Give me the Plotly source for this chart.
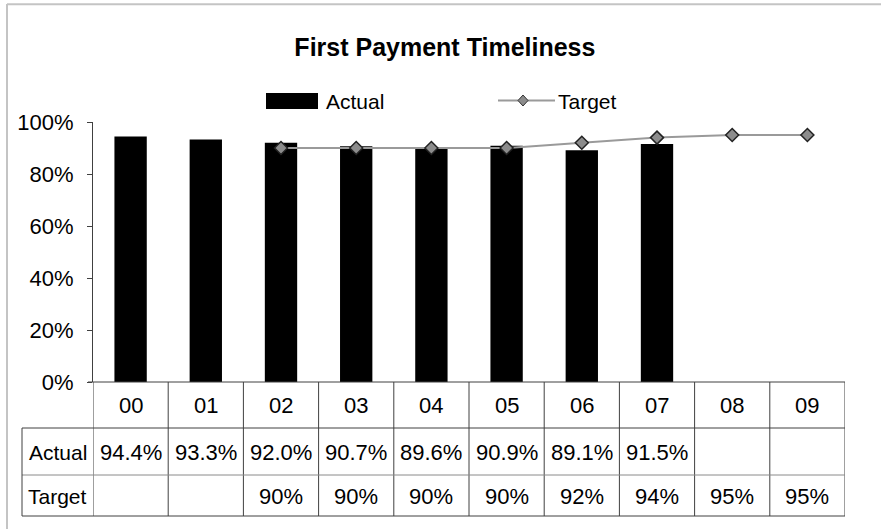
import plotly.graph_objects as go

# ---- data ----
categories = ["00", "01", "02", "03", "04", "05", "06", "07", "08", "09"]
actual = [94.4, 93.3, 92.0, 90.7, 89.6, 90.9, 89.1, 91.5, None, None]
target = [None, None, 90, 90, 90, 90, 92, 94, 95, 95]
series_names = ["Actual", "Target"]
title_text = "First Payment Timeliness"
y_ticks = [0, 20, 40, 60, 80, 100]

FONT = "Liberation Sans, Arial, sans-serif"
W_PX, H_PX = 881, 529
L, R, T, B = 93, 845, 122, 382
PW, PH = R - L, B - T


def px(x):
    return (x - L) / PW


def py(y):
    return (B - y) / PH


fig = go.Figure()
fig.add_trace(go.Bar(x=categories, y=actual, name=series_names[0],
                     marker=dict(color="black", line=dict(width=0)),
                     showlegend=False))
fig.add_trace(go.Scatter(x=categories, y=target, name=series_names[1],
                         mode="lines+markers",
                         line=dict(color="#9a9a9a", width=2),
                         marker=dict(symbol="diamond", size=10, color="#8c8c8c",
                                     line=dict(color="#222222", width=1.5)),
                         connectgaps=False, showlegend=False))

shapes = []
dark = "#404040"
light = "#8a8a8a"
# outer chart border (top and left)
shapes.append(dict(type="line", xref="paper", yref="paper", x0=px(7), x1=px(881), y0=py(4.3), y1=py(4.3),
                   line=dict(color="#c4c4c4", width=2)))
shapes.append(dict(type="line", xref="paper", yref="paper", x0=px(7), x1=px(7), y0=py(4), y1=py(529),
                   line=dict(color="#c4c4c4", width=2)))
# table lines
n = len(categories)
for i in range(n + 1):
    xb = i - 0.5
    shapes.append(dict(type="line", xref="x", yref="paper", x0=xb, x1=xb, y0=py(382), y1=py(516),
                       line=dict(color=dark, width=1)))
shapes.append(dict(type="line", xref="paper", yref="paper", x0=px(88), x1=px(845), y0=0, y1=0,
                   line=dict(color=dark, width=1)))
shapes.append(dict(type="line", xref="paper", yref="paper", x0=px(22), x1=px(845), y0=py(428), y1=py(428),
                   line=dict(color=dark, width=1)))
shapes.append(dict(type="line", xref="paper", yref="paper", x0=px(22), x1=px(845), y0=py(475), y1=py(475),
                   line=dict(color=light, width=1)))
shapes.append(dict(type="line", xref="paper", yref="paper", x0=px(22), x1=px(845), y0=py(516), y1=py(516),
                   line=dict(color=dark, width=1)))
shapes.append(dict(type="line", xref="paper", yref="paper", x0=px(22), x1=px(22), y0=py(428), y1=py(516),
                   line=dict(color=dark, width=1)))
# custom legend
shapes.append(dict(type="rect", xref="paper", yref="paper", x0=px(266), x1=px(318), y0=py(93), y1=py(109),
                   fillcolor="black", line=dict(width=0)))
shapes.append(dict(type="line", xref="paper", yref="paper", x0=px(498), x1=px(555), y0=py(100.5), y1=py(100.5),
                   line=dict(color="#9a9a9a", width=2)))
cx, cy = 523, 100.5
diamond = "M {} {} L {} {} L {} {} L {} {} Z".format(
    px(cx - 5), py(cy), px(cx), py(cy - 5.5), px(cx + 5), py(cy), px(cx), py(cy + 5.5))
shapes.append(dict(type="path", xref="paper", yref="paper", path=diamond,
                   fillcolor="#8c8c8c", line=dict(color="#333333", width=1)))

annotations = []
tf = dict(family=FONT, size=21, color="black")
nf = dict(family=FONT, size=22, color="black")
annotations.append(dict(text=series_names[0], xref="paper", yref="paper", x=px(324), y=py(101),
                        xanchor="left", yanchor="middle", showarrow=False, font=tf))
annotations.append(dict(text=series_names[1], xref="paper", yref="paper", x=px(556), y=py(101),
                        xanchor="left", yanchor="middle", showarrow=False, font=tf))
# table row headers
annotations.append(dict(text=series_names[0], xref="paper", yref="paper", x=px(57.5), y=py(452),
                        xanchor="center", yanchor="middle", showarrow=False, font=tf))
annotations.append(dict(text=series_names[1], xref="paper", yref="paper", x=px(57.5), y=py(496),
                        xanchor="center", yanchor="middle", showarrow=False, font=tf))
for c, a, t in zip(categories, actual, target):
    annotations.append(dict(text=c, xref="x", yref="paper", x=c, y=py(405),
                            xanchor="center", yanchor="middle", showarrow=False, font=nf))
    if a is not None:
        annotations.append(dict(text=f"{a:.1f}%", xref="x", yref="paper", x=c, y=py(452),
                                xanchor="center", yanchor="middle", showarrow=False, font=nf))
    if t is not None:
        annotations.append(dict(text=f"{t:.0f}%", xref="x", yref="paper", x=c, y=py(496),
                                xanchor="center", yanchor="middle", showarrow=False, font=nf))

fig.update_layout(
    width=W_PX, height=H_PX,
    margin=dict(l=L, r=W_PX - R, t=T, b=H_PX - B, pad=0),
    paper_bgcolor="white", plot_bgcolor="white",
    bargap=0.57,
    title=dict(text="<b>" + title_text + "</b>", x=0.505, xref="container", xanchor="center",
               y=1 - 47 / H_PX, yref="container", yanchor="middle",
               font=dict(family=FONT, size=25, color="black")),
    xaxis=dict(range=[-0.5, n - 0.5], showticklabels=False, showline=False, ticks="",
               showgrid=False, zeroline=False, fixedrange=True),
    yaxis=dict(range=[0, 100], tickvals=y_ticks, ticktext=[f"{v}%" for v in y_ticks],
               ticks="outside", ticklen=5, tickcolor=dark, tickwidth=1,
               showline=True, linecolor=dark, linewidth=1,
               showgrid=False, zeroline=False, ticklabelstandoff=9,
               tickfont=dict(family=FONT, size=22, color="black")),
    shapes=shapes, annotations=annotations, showlegend=False,
)
fig.write_html("out.html", config={"displayModeBar": False},
               post_script="document.body.style.margin='0';")
